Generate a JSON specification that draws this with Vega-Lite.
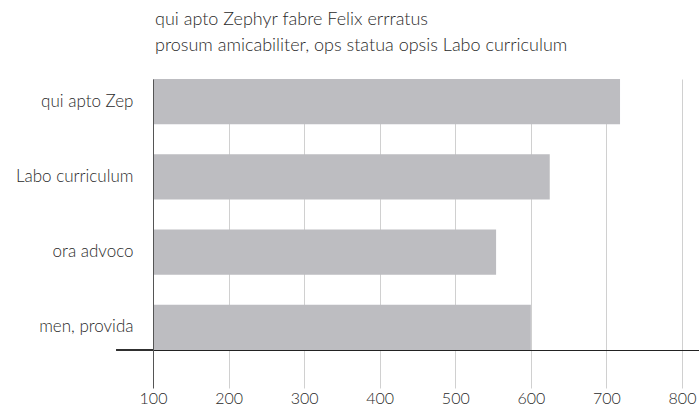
{
  "$schema": "https://vega.github.io/schema/vega-lite/v6.json",
  "autosize": {"type": "none"},
  "padding": {"left": 153, "top": 79, "right": 0, "bottom": 61},
  "width": 546,
  "height": 271,
  "background": "white",
  "title": {
    "text": ["qui apto Zephyr fabre Felix errratus", "prosum amicabiliter, ops statua opsis Labo curriculum"],
    "anchor": "start",
    "frame": "group",
    "font": "Lato",
    "fontSize": 18,
    "fontWeight": 300,
    "color": "#2a2a2a",
    "lineHeight": 26,
    "offset": 24,
    "dx": 2
  },
  "data": {
    "values": [
      {"category": "qui apto Zep", "value": 718},
      {"category": "Labo curriculum", "value": 625},
      {"category": "ora advoco", "value": 554},
      {"category": "men, provida", "value": 600}
    ]
  },
  "config": {
    "view": {"stroke": null},
    "axis": {"labelFont": "Lato", "labelFontWeight": 300, "labelColor": "#2a2a2a"}
  },
  "layer": [
    {
      "mark": {"type": "bar", "color": "#bdbdc1"},
      "encoding": {
        "y": {
          "field": "category",
          "type": "nominal",
          "sort": null,
          "scale": {"paddingInner": 0.4, "paddingOuter": 0},
          "axis": {
            "title": null,
            "ticks": false,
            "domainColor": "#555555",
            "labelPadding": 20,
            "labelFontSize": 17,
            "zindex": 1
          }
        },
        "x": {
          "field": "value",
          "type": "quantitative",
          "scale": {"domain": [100, 822.5], "zero": false, "nice": false},
          "axis": {
            "title": null,
            "values": [100, 200, 300, 400, 500, 600, 700, 800],
            "domainColor": "#222222",
            "gridColor": {"condition": {"test": "datum.value === 100", "value": "#555555"}, "value": "#d0d0d0"},
            "tickColor": {"condition": {"test": "datum.value === 100", "value": "#555555"}, "value": "#d0d0d0"},
            "tickSize": 38,
            "labelPadding": 2,
            "labelFontSize": 16,
            "labelFlush": false
          }
        },
        "x2": {"datum": 100}
      }
    },
    {
      "mark": {"type": "rule", "color": "#222222", "clip": false},
      "encoding": {
        "x": {"datum": 51.2},
        "x2": {"datum": 100},
        "y": {"value": "height"}
      }
    }
  ]
}
